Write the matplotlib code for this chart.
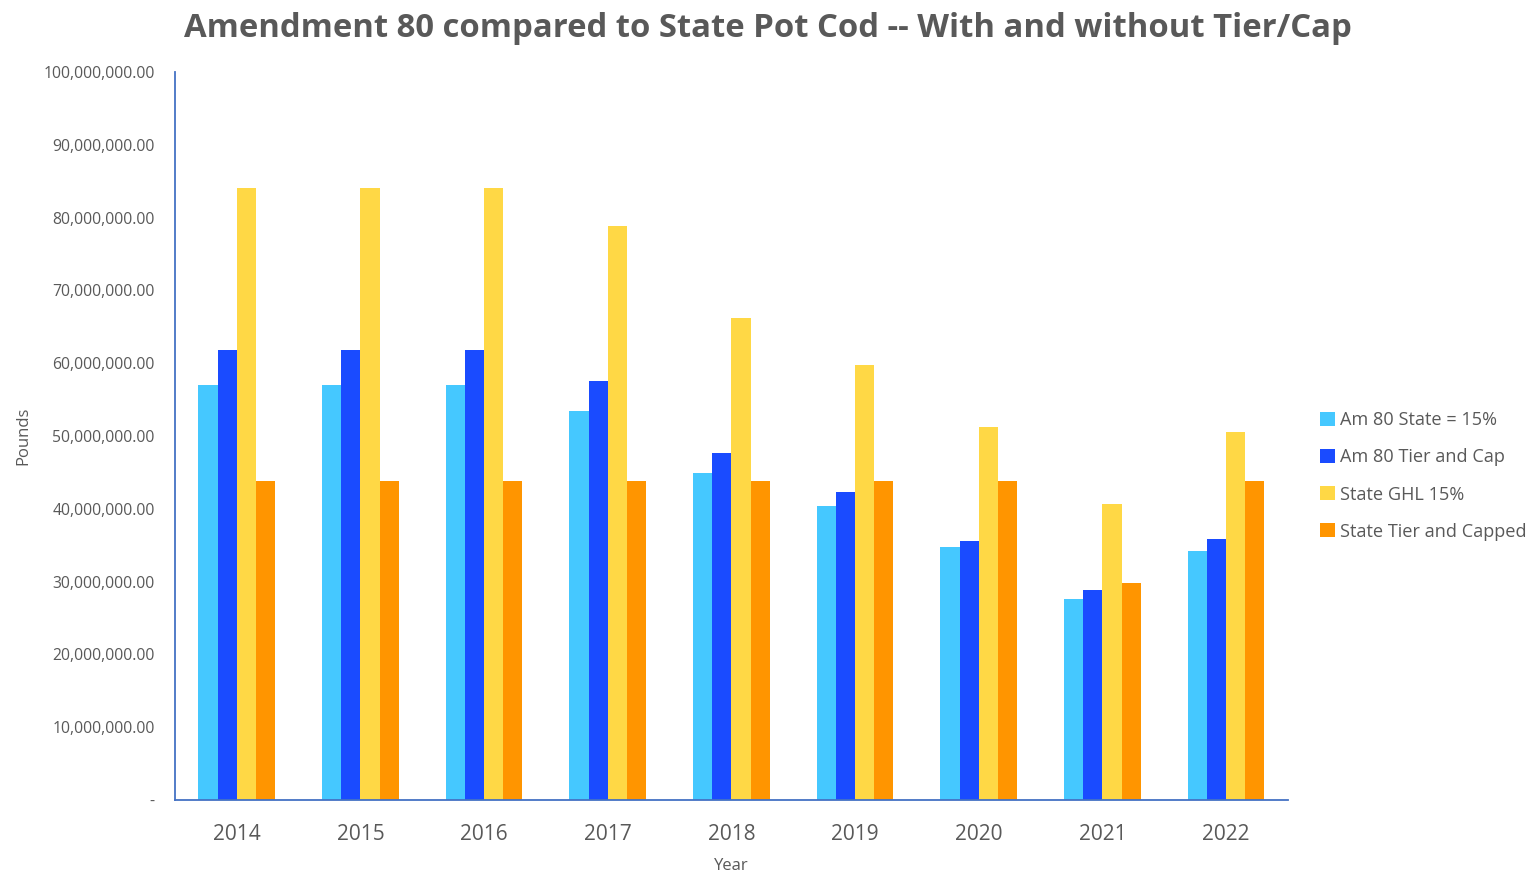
import matplotlib
matplotlib.use("Agg")
import matplotlib.pyplot as plt
import numpy as np
from matplotlib.ticker import FuncFormatter

years = ["2014", "2015", "2016", "2017", "2018", "2019", "2020", "2021", "2022"]
am80_state_15 = [57.0e6, 57.0e6, 57.0e6, 53.4e6, 44.9e6, 40.4e6, 34.8e6, 27.6e6, 34.2e6]
am80_tier_cap = [61.8e6, 61.8e6, 61.8e6, 57.6e6, 47.7e6, 42.3e6, 35.6e6, 28.8e6, 35.9e6]
state_ghl_15 = [84.1e6, 84.1e6, 84.1e6, 78.8e6, 66.2e6, 59.8e6, 51.2e6, 40.7e6, 50.5e6]
state_tier_capped = [43.8e6, 43.8e6, 43.8e6, 43.8e6, 43.8e6, 43.8e6, 43.8e6, 29.8e6, 43.8e6]

series = [
    ("Am 80 State = 15%", am80_state_15, "#45C8FF"),
    ("Am 80 Tier and Cap", am80_tier_cap, "#1A4BFF"),
    ("State GHL 15%", state_ghl_15, "#FFD845"),
    ("State Tier and Capped", state_tier_capped, "#FF9500"),
]

plt.rcParams['font.family'] = ['Open Sans', 'DejaVu Sans']
gray = "#595959"

fig = plt.figure(figsize=(15.36, 8.77), dpi=100)
ax = fig.add_axes([0.1139, 0.0878, 0.7246, 0.8301])

x = np.arange(len(years))
w = 0.155
for i, (name, vals, col) in enumerate(series):
    ax.bar(x + (i - 1.5) * w, vals, width=w, color=col, label=name, zorder=2)

ax.set_xlim(-0.5, len(years) - 0.5)
ax.set_ylim(0, 100e6)
ax.set_yticks(np.arange(0, 100e6 + 1, 10e6))
ax.yaxis.set_major_formatter(FuncFormatter(lambda v, p: "-" if v == 0 else f"{v:,.2f}"))
ax.set_xticks(x)
ax.set_xticklabels(years)
ax.tick_params(axis='y', labelsize=11.3, colors=gray, length=0, pad=14.5)
ax.tick_params(axis='x', labelsize=15, colors=gray, length=0, pad=17)

for s in ["top", "right"]:
    ax.spines[s].set_visible(False)
for s in ["left", "bottom"]:
    ax.spines[s].set_color("#4472C4")
    ax.spines[s].set_linewidth(1.3)

ax.set_ylabel("Pounds", fontsize=12, color=gray, labelpad=9)
ax.set_xlabel("Year", fontsize=12, color=gray, labelpad=10)

fig.text(0.5, 0.968, "Amendment 80 compared to State Pot Cod -- With and without Tier/Cap",
         ha="center", va="center", fontsize=23.7, fontweight="bold", color=gray)

leg = ax.legend(loc="center left", bbox_to_anchor=(1.0145, 0.445), frameon=False,
                fontsize=13.1, handlelength=0.8, handleheight=0.8, handletextpad=0.3,
                labelspacing=1.05, labelcolor=gray)

fig.savefig("out.png", dpi=100, facecolor="white")
